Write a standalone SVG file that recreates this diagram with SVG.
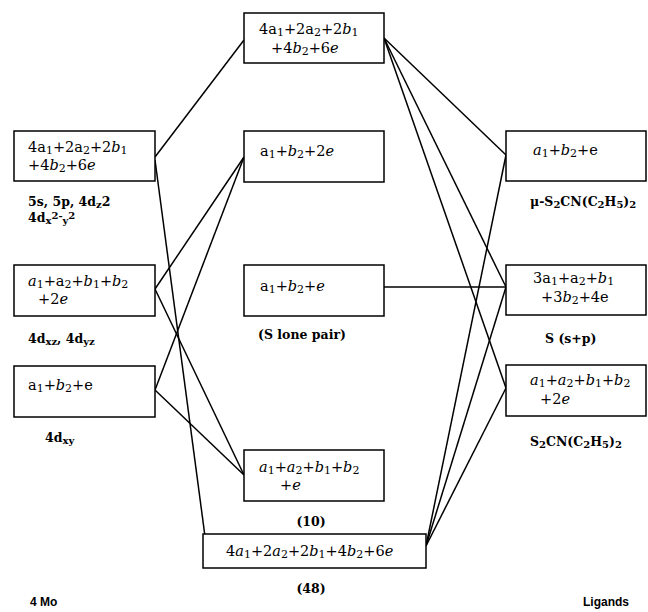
<svg xmlns="http://www.w3.org/2000/svg" width="648" height="612" viewBox="0 0 648 612">
<style>
.box{fill:#fff;stroke:#000;stroke-width:1.5}
.f{font-family:"DejaVu Serif","Liberation Serif",serif;font-size:14.5px;fill:#000}
.lab{font-family:"DejaVu Serif","Liberation Serif",serif;font-size:12.5px;font-weight:bold;fill:#000}
.hd{font-family:"Liberation Sans",sans-serif;font-size:12px;font-weight:bold;fill:#000}
.i{font-style:italic}
.s{font-size:11px}
.lab .s{font-size:10px}
.c line{stroke:#000;stroke-width:1.5}
</style>
<g class="c" id="connectors">
<line x1="155" y1="157" x2="244" y2="40"/>
<line x1="155" y1="160" x2="206" y2="544"/>
<line x1="155" y1="289" x2="244" y2="157"/>
<line x1="155" y1="289" x2="244" y2="475"/>
<line x1="155" y1="390" x2="244" y2="157"/>
<line x1="155" y1="390" x2="244" y2="475"/>
<line x1="384" y1="287" x2="506" y2="287"/>
<line x1="384" y1="38" x2="506" y2="155"/>
<line x1="384" y1="38" x2="506" y2="287"/>
<line x1="384" y1="38" x2="506" y2="388"/>
<line x1="426" y1="546" x2="506" y2="155"/>
<line x1="426" y1="546" x2="506" y2="287"/>
<line x1="426" y1="546" x2="506" y2="388"/>
</g>
<g id="L1">
<rect class="box" x="14" y="131" width="141" height="50"/>
<text class="f" x="28" y="152">4a<tspan class="s" dy="2">1</tspan><tspan dy="-2">+2a</tspan><tspan class="s" dy="2">2</tspan><tspan dy="-2">+2</tspan><tspan class="i">b</tspan><tspan class="s" dy="2">1</tspan></text>
<text class="f" x="28" y="170">+4<tspan class="i">b</tspan><tspan class="s" dy="2">2</tspan><tspan dy="-2">+6</tspan><tspan class="i">e</tspan></text>
<text class="lab" x="28" y="206">5s, 5p, 4d<tspan class="s" dy="2">z</tspan><tspan dy="-2">2</tspan></text>
<text class="lab" x="28" y="222">4d<tspan class="s" dy="2">x</tspan><tspan class="s" dy="-5">2</tspan><tspan class="s">-</tspan><tspan class="s" dy="5">y</tspan><tspan class="s" dy="-5">2</tspan></text>
</g>
<g id="L2">
<rect class="box" x="14" y="265" width="141" height="51"/>
<text class="f" x="28" y="286"><tspan class="i">a</tspan><tspan class="s" dy="2">1</tspan><tspan dy="-2">+a</tspan><tspan class="s" dy="2">2</tspan><tspan dy="-2">+</tspan><tspan class="i">b</tspan><tspan class="s" dy="2">1</tspan><tspan dy="-2">+</tspan><tspan class="i">b</tspan><tspan class="s" dy="2">2</tspan></text>
<text class="f" x="38" y="304">+2<tspan class="i">e</tspan></text>
<text class="lab" x="28" y="343">4d<tspan class="s" dy="2">xz</tspan><tspan dy="-2">, 4d</tspan><tspan class="s" dy="2">yz</tspan></text>
</g>
<g id="L3">
<rect class="box" x="14" y="366" width="141" height="51"/>
<text class="f" x="28" y="390">a<tspan class="s" dy="2">1</tspan><tspan dy="-2">+</tspan><tspan class="i">b</tspan><tspan class="s" dy="2">2</tspan><tspan dy="-2">+e</tspan></text>
<text class="lab" x="45" y="442">4d<tspan class="s" dy="2">xy</tspan></text>
</g>
<g id="C1">
<rect class="box" x="244" y="13" width="140" height="50"/>
<text class="f" x="259" y="34">4a<tspan class="s" dy="2">1</tspan><tspan dy="-2">+2a</tspan><tspan class="s" dy="2">2</tspan><tspan dy="-2">+2</tspan><tspan class="i">b</tspan><tspan class="s" dy="2">1</tspan></text>
<text class="f" x="271" y="53">+4<tspan class="i">b</tspan><tspan class="s" dy="2">2</tspan><tspan dy="-2">+6</tspan><tspan class="i">e</tspan></text>
</g>
<g id="C2">
<rect class="box" x="244" y="131" width="140" height="51"/>
<text class="f" x="260" y="156">a<tspan class="s" dy="2">1</tspan><tspan dy="-2">+</tspan><tspan class="i">b</tspan><tspan class="s" dy="2">2</tspan><tspan dy="-2">+2</tspan><tspan class="i">e</tspan></text>
</g>
<g id="C3">
<rect class="box" x="244" y="265" width="140" height="51"/>
<text class="f" x="260" y="291">a<tspan class="s" dy="2">1</tspan><tspan dy="-2">+</tspan><tspan class="i">b</tspan><tspan class="s" dy="2">2</tspan><tspan dy="-2">+</tspan><tspan class="i">e</tspan></text>
<text class="lab" x="302" y="339" text-anchor="middle">(S lone pair)</text>
</g>
<g id="C4">
<rect class="box" x="244" y="450" width="140" height="51"/>
<text class="f" x="259" y="472"><tspan class="i">a</tspan><tspan class="s" dy="2">1</tspan><tspan dy="-2">+</tspan><tspan class="i">a</tspan><tspan class="s" dy="2">2</tspan><tspan dy="-2">+</tspan><tspan class="i">b</tspan><tspan class="s" dy="2">1</tspan><tspan dy="-2">+</tspan><tspan class="i">b</tspan><tspan class="s" dy="2">2</tspan></text>
<text class="f" x="280" y="490">+<tspan class="i">e</tspan></text>
<text class="lab" x="311" y="526" text-anchor="middle">(10)</text>
</g>
<g id="C5">
<rect class="box" x="203" y="534" width="223" height="34"/>
<text class="f" x="226" y="556">4<tspan class="i">a</tspan><tspan class="s" dy="2">1</tspan><tspan dy="-2">+2</tspan><tspan class="i">a</tspan><tspan class="s" dy="2">2</tspan><tspan dy="-2">+2</tspan><tspan class="i">b</tspan><tspan class="s" dy="2">1</tspan><tspan dy="-2">+4</tspan><tspan class="i">b</tspan><tspan class="s" dy="2">2</tspan><tspan dy="-2">+6</tspan><tspan class="i">e</tspan></text>
<text class="lab" x="311" y="593" text-anchor="middle">(48)</text>
</g>
<g id="R1">
<rect class="box" x="506" y="131" width="140" height="50"/>
<text class="f" x="533" y="155"><tspan class="i">a</tspan><tspan class="s" dy="2">1</tspan><tspan dy="-2">+</tspan><tspan class="i">b</tspan><tspan class="s" dy="2">2</tspan><tspan dy="-2">+e</tspan></text>
<text class="lab" x="530" y="206">μ-S<tspan class="s" dy="2">2</tspan><tspan dy="-2">CN(C</tspan><tspan class="s" dy="2">2</tspan><tspan dy="-2">H</tspan><tspan class="s" dy="2">5</tspan><tspan dy="-2">)</tspan><tspan class="s" dy="2">2</tspan></text>
</g>
<g id="R2">
<rect class="box" x="506" y="265" width="140" height="50"/>
<text class="f" x="533" y="283">3a<tspan class="s" dy="2">1</tspan><tspan dy="-2">+a</tspan><tspan class="s" dy="2">2</tspan><tspan dy="-2">+</tspan><tspan class="i">b</tspan><tspan class="s" dy="2">1</tspan></text>
<text class="f" x="541" y="302">+3<tspan class="i">b</tspan><tspan class="s" dy="2">2</tspan><tspan dy="-2">+4e</tspan></text>
<text class="lab" x="545" y="343">S (s+p)</text>
</g>
<g id="R3">
<rect class="box" x="506" y="365" width="140" height="51"/>
<text class="f" x="530" y="385"><tspan class="i">a</tspan><tspan class="s" dy="2">1</tspan><tspan dy="-2">+</tspan><tspan class="i">a</tspan><tspan class="s" dy="2">2</tspan><tspan dy="-2">+</tspan><tspan class="i">b</tspan><tspan class="s" dy="2">1</tspan><tspan dy="-2">+</tspan><tspan class="i">b</tspan><tspan class="s" dy="2">2</tspan></text>
<text class="f" x="540" y="404">+2<tspan class="i">e</tspan></text>
<text class="lab" x="530" y="446">S<tspan class="s" dy="2">2</tspan><tspan dy="-2">CN(C</tspan><tspan class="s" dy="2">2</tspan><tspan dy="-2">H</tspan><tspan class="s" dy="2">5</tspan><tspan dy="-2">)</tspan><tspan class="s" dy="2">2</tspan></text>
</g>
<g id="titles">
<text class="hd" x="30" y="606">4 Mo</text>
<text class="hd" x="583" y="606">Ligands</text>
</g>
</svg>
